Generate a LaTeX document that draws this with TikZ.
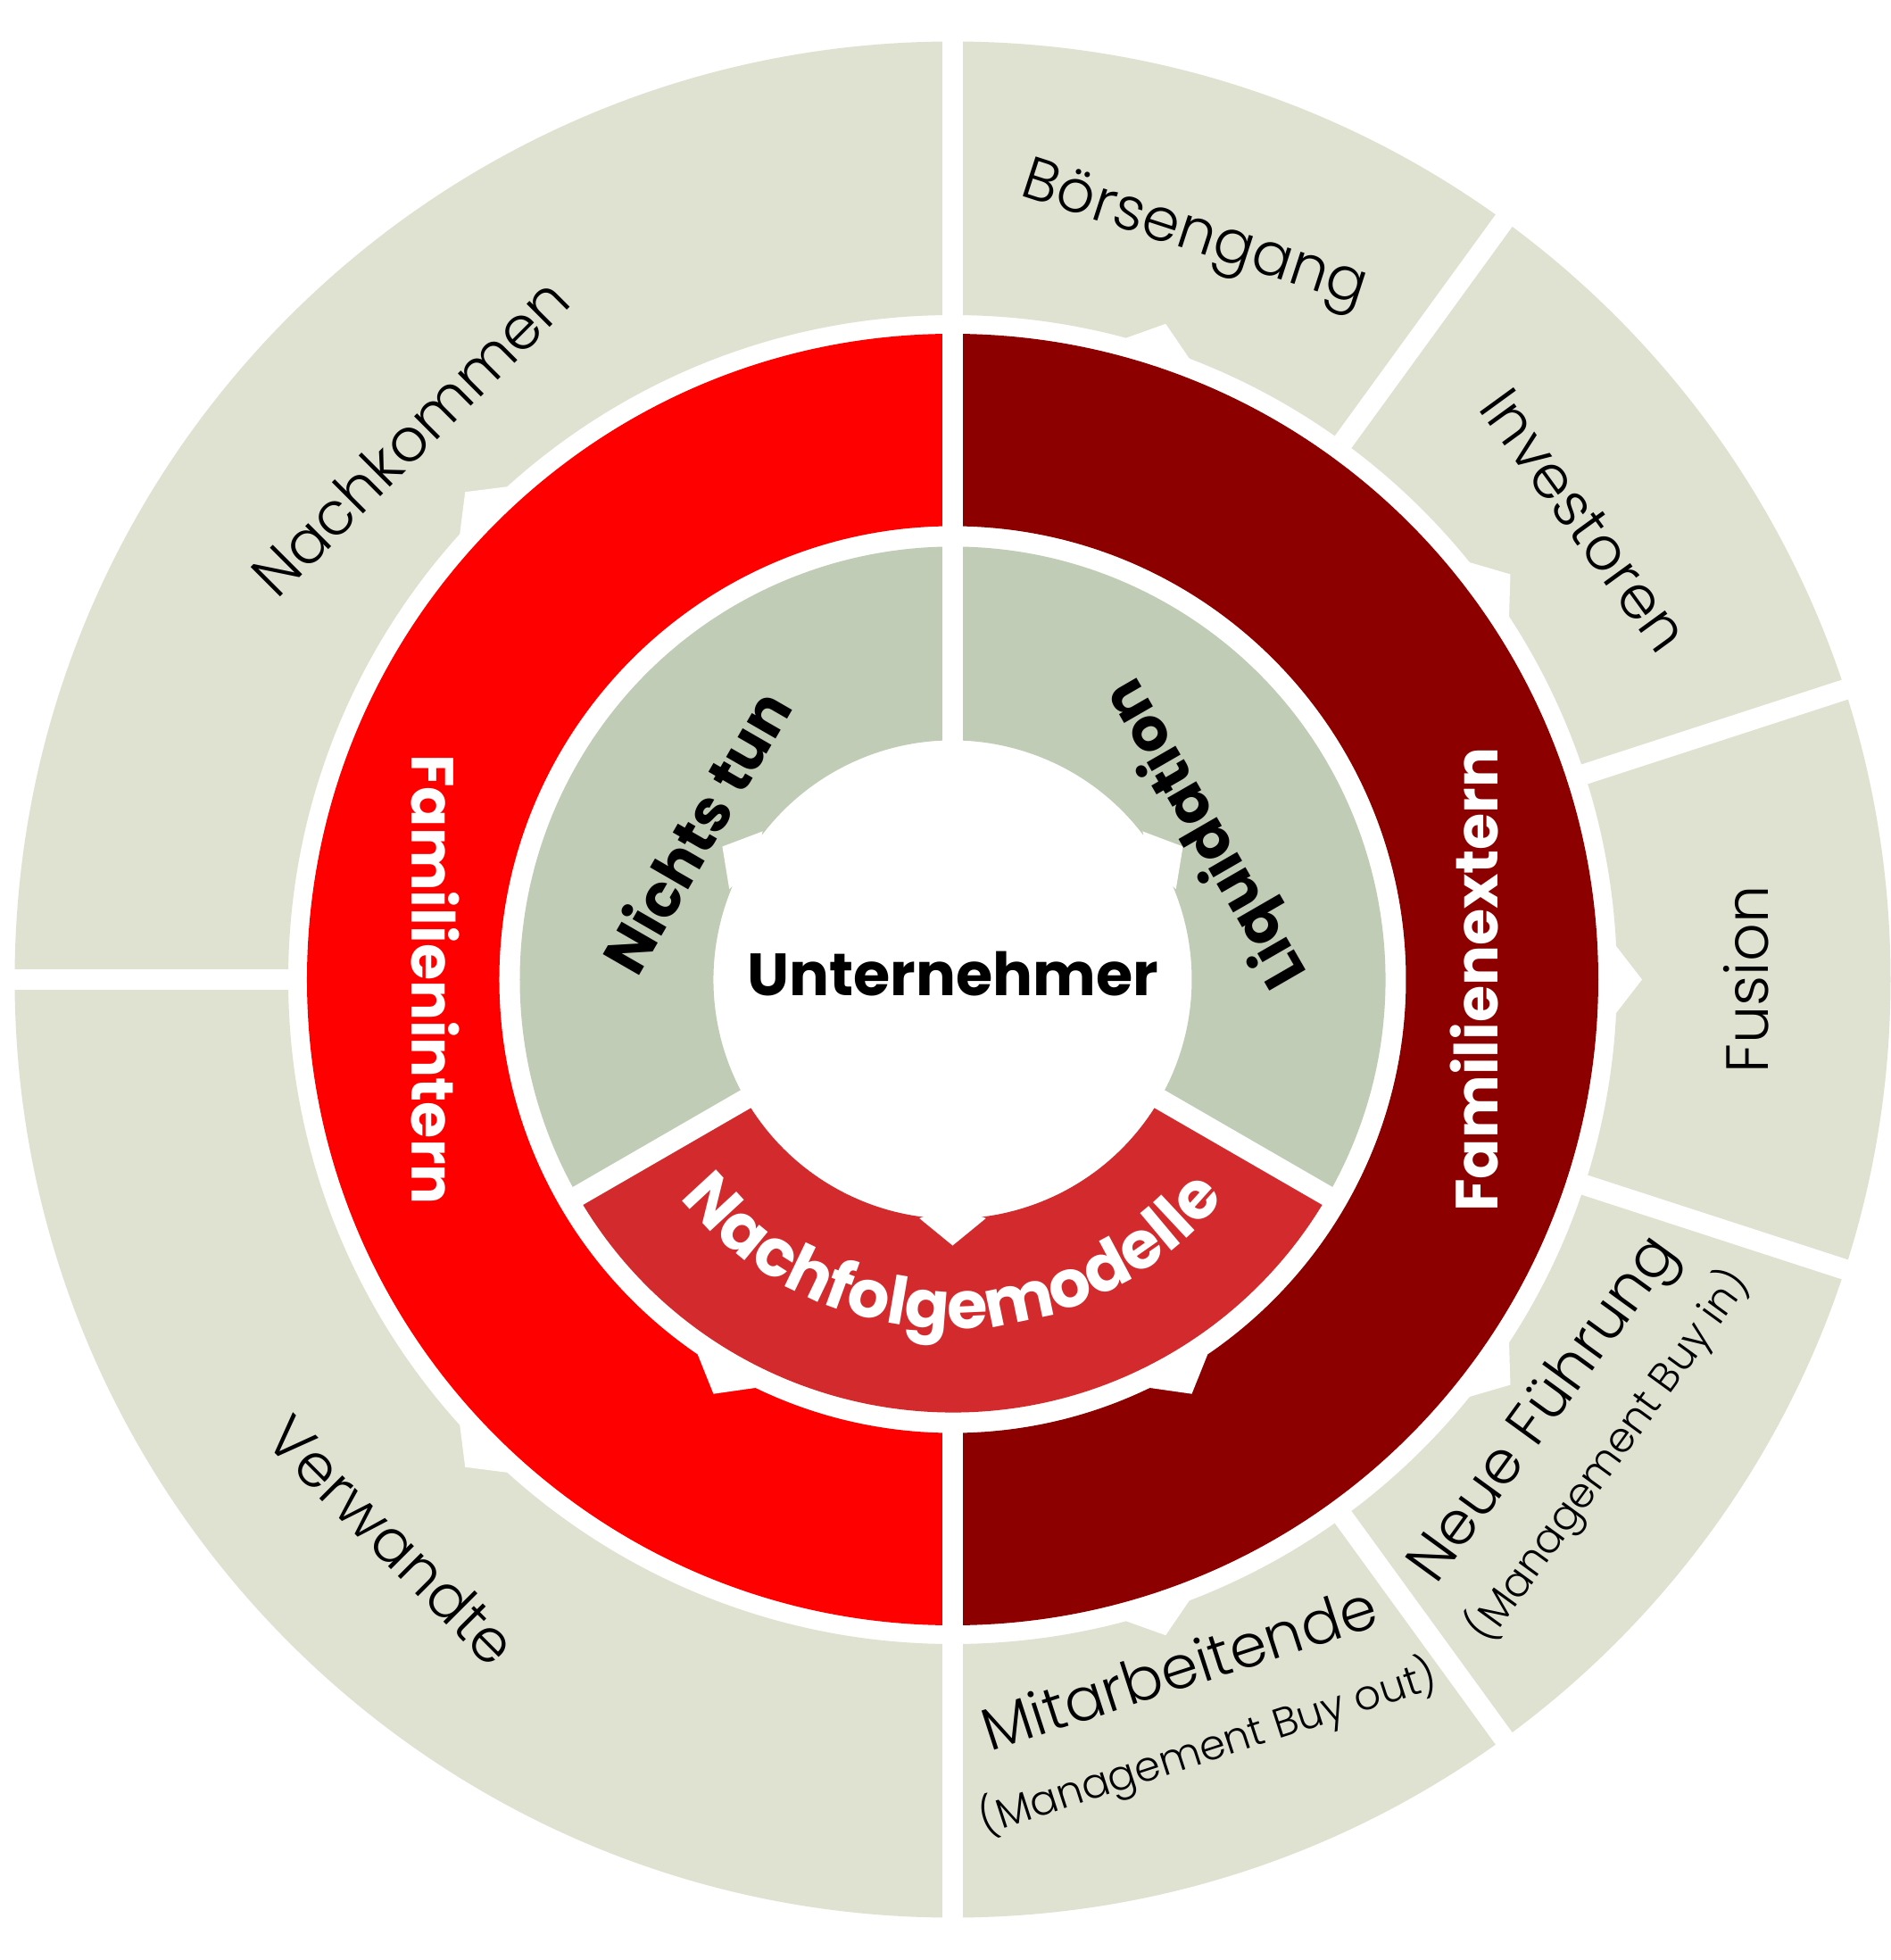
\documentclass[tikz,border=0pt]{standalone}
\usepackage{fontspec}
\setmainfont{Poppins}
\newfontfamily\lightfont{Poppins Light}
\usetikzlibrary{decorations.text}
\definecolor{outerbeige}{RGB}{223,226,208}
\definecolor{sage}{RGB}{192,204,181}
\definecolor{famred}{RGB}{255,0,0}
\definecolor{famdark}{RGB}{140,0,0}
\definecolor{modred}{RGB}{210,42,45}
\newcommand{\nfont}{\bfseries\fontsize{21}{21}\selectfont}
\tikzset{
    gapline/.style={white, line width=2.3mm}, % white cuts between segments
    notch/.style={fill=white}, % small pointers into the next ring
    boldlabel/.style={font=\bfseries\fontsize{19}{19}\selectfont, inner sep=0pt},
    whitelabel/.style={boldlabel, text=white},
    outerlabel/.style={font=\lightfont\fontsize{19}{19}\selectfont, inner sep=0pt},
    sublabel/.style={font=\lightfont\fontsize{13.2}{13.2}\selectfont, inner sep=0pt},
}

\begin{document}
\begin{tikzpicture}
  \fill[white] (-10.675,-10.985) rectangle (10.515,10.975);
  \useasboundingbox (-10.675,-10.985) rectangle (10.515,10.975);

  % rings
  \fill[outerbeige, even odd rule] (0,0) circle (10.51) (0,0) circle (7.445);
  \fill[famred] (90:7.235) arc[start angle=90, end angle=270, radius=7.235]
    -- (270:5.08) arc[start angle=270, end angle=90, radius=5.08] -- cycle;
  \fill[famdark] (-90:7.235) arc[start angle=-90, end angle=90, radius=7.235]
    -- (90:5.08) arc[start angle=90, end angle=-90, radius=5.08] -- cycle;
  \fill[sage] (-30:4.85) arc[start angle=-30, end angle=210, radius=4.85]
    -- (210:2.68) arc[start angle=210, end angle=-30, radius=2.68] -- cycle;
  \fill[modred] (210:4.85) arc[start angle=210, end angle=330, radius=4.85]
    -- (330:2.68) arc[start angle=330, end angle=210, radius=2.68] -- cycle;

  % gaps
  \foreach \a/\ri/\ro in {90/2.5/10.7, 270/4.9/10.7, 180/7.3/10.7, 210/2.5/4.95,
      330/2.5/4.95, 54/7.3/10.7, 18/7.3/10.7, -18/7.3/10.7, -54/7.3/10.7}
    \draw[gapline] (\a:\ri) -- (\a:\ro);

  % notches
  \foreach \a/\r in {150/2.70, 30/2.70, 270/2.70, 240/5.08, 300/5.08,
      135/7.445, 225/7.445, 72/7.445, 36/7.445, 0/7.445, -36/7.445, -72/7.445}
    \fill[notch] ({\a+deg(0.375/\r)}:\r) -- (\a:\r+0.28)
      -- ({\a-deg(0.375/\r)}:\r) -- (\a:\r-0.15) -- cycle;

  \node[boldlabel] (owner) at (0,0.06) {Unternehmer};
  \node[boldlabel, rotate=60] (nothing) at (150:3.33) {Nichts tun};
  \node[boldlabel, rotate=120] (liquid) at (30:3.30) {Liquidation};
  \node[whitelabel, rotate=-90] (famin) at (180:5.80) {Familienintern};
  \node[whitelabel, rotate=90] (famex) at (0:5.85) {Familienextern};
  \path[decorate, decoration={text along path, text align=center, text color=white,
      text={|\nfont|Nachfolgemodelle}}]
    (200:3.91) arc[start angle=200, end angle=340, radius=3.91];

  \node[outerlabel, rotate=45] (desc) at (135:8.60) {Nachkommen};
  \node[outerlabel, rotate=-45] (rel) at (225:8.88) {Verwandte};
  \node[outerlabel, rotate=-18] (ipo) at (72:8.74) {Börsengang};
  \node[outerlabel, rotate=-54] (inv) at (36:8.75) {Investoren};
  \node[outerlabel, rotate=90] (merge) at (0:8.89) {Fusion};
  \node[outerlabel, rotate=54] (mbi) at (-36:8.22) {Neue Führung};
  \node[sublabel, rotate=54] (mbinote) at (-36:9.08) {(Management Buy in)};
  \node[outerlabel, rotate=18] (staff) at (-71.8:8.11) {Mitarbeitende};
  \node[sublabel, rotate=18] (mbonote) at (-71.6:9.07) {(Management Buy out)};
\end{tikzpicture}
\end{document}
